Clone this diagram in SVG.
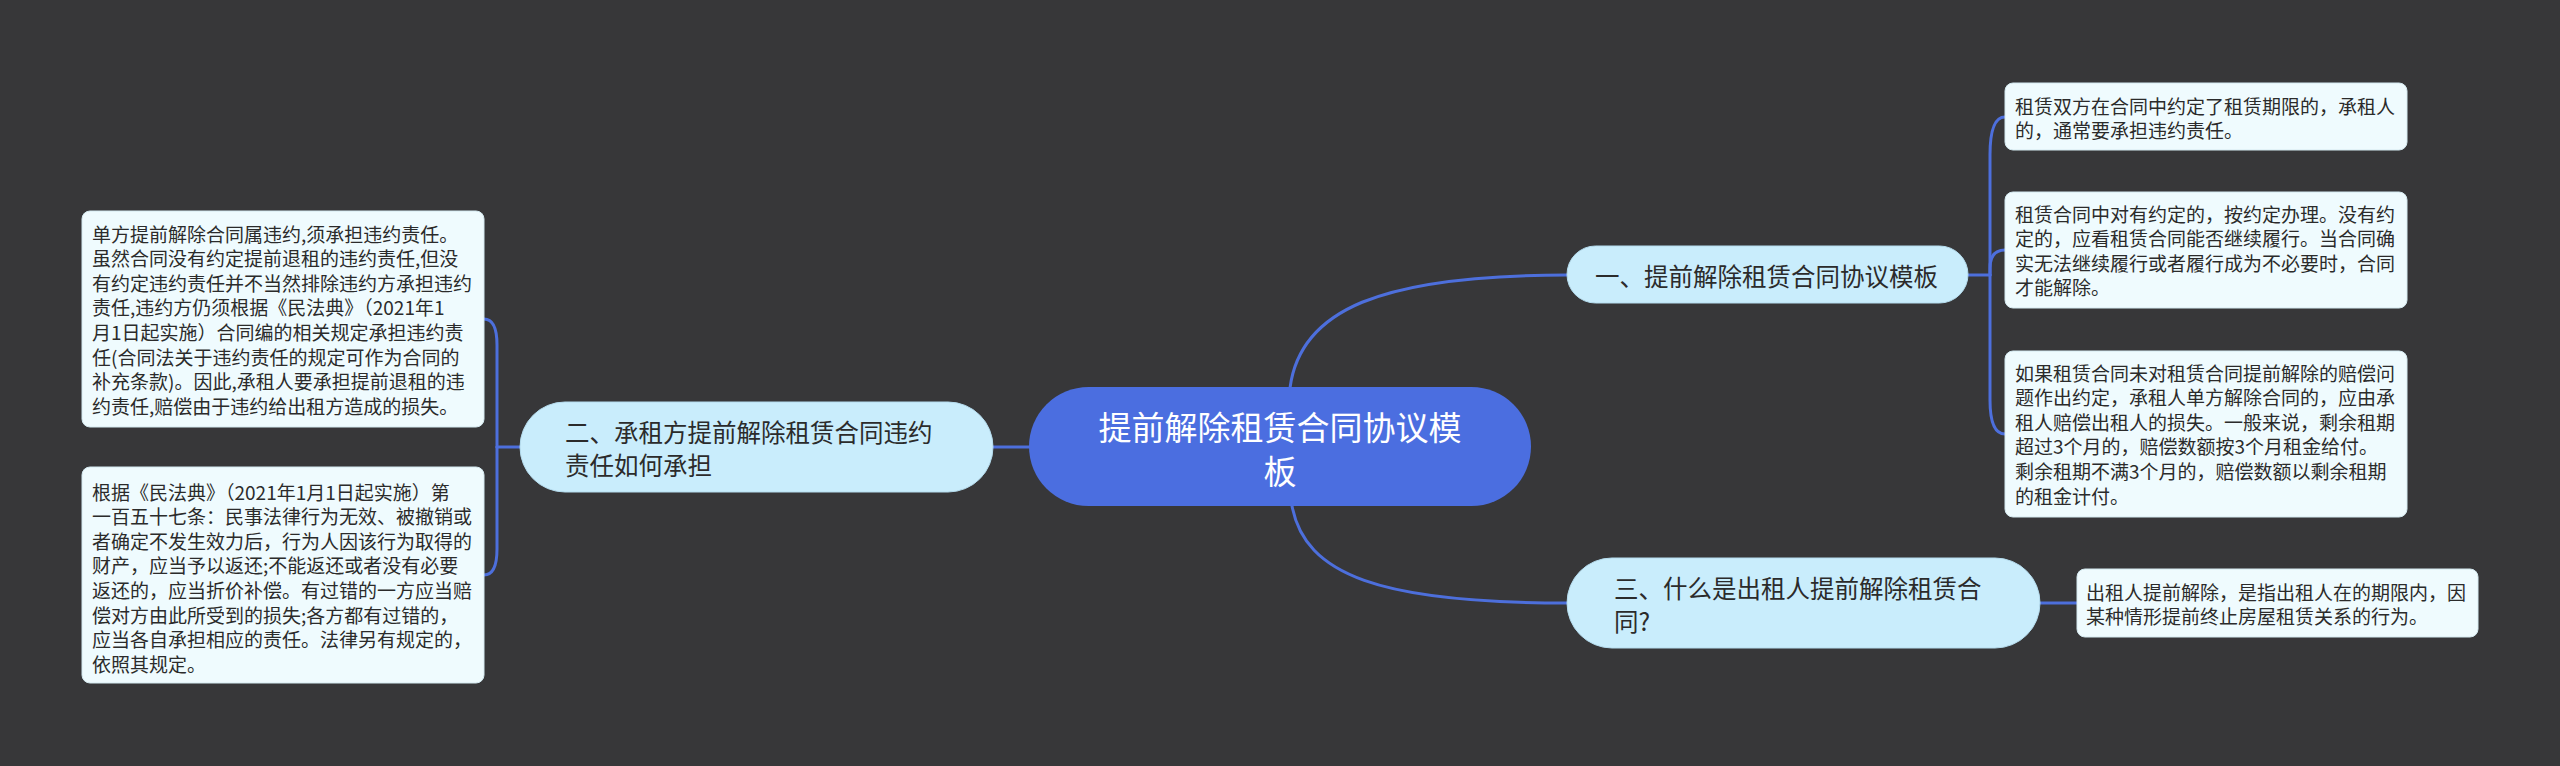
<svg xmlns="http://www.w3.org/2000/svg" width="2560" height="766" viewBox="0 0 2560 766">
<style>
.bg{fill:#373739}
.root{fill:#4b6ee0}
.l1{fill:#c9edfc;stroke:#b5dcee;stroke-width:1}
.leaf{fill:#effbfe;stroke:#d4e9f0;stroke-width:1}
.link{fill:none;stroke:#4d6fdc;stroke-width:3;stroke-linecap:round}
text{font-family:"Noto Sans CJK SC","Noto Sans",sans-serif;dominant-baseline:central}
.tr{font-size:33px;fill:#ffffff}
.t1{font-size:24.5px;fill:#2b2b2b}
.tl{font-size:19px;fill:#2b2b2b}
</style>
<rect class="bg" x="0" y="0" width="2560" height="766"/>
<g id="connectors">
<path class="link" d="M1290 388 C1300 310 1380 275 1567 275"/>
<path class="link" d="M1292 506 C1305 575 1380 603 1567 603"/>
<path class="link" d="M1029 447 H993"/>
<path class="link" d="M520 447 H497"/>
<path class="link" d="M497 447 V345 Q497 319 484 319"/>
<path class="link" d="M497 447 V549 Q497 575 484 575"/>
<path class="link" d="M1968 275 H1990"/>
<path class="link" d="M1990 275 V155 Q1990 117 2005 117"/>
<path class="link" d="M1990 275 V268 Q1990 250 2005 250"/>
<path class="link" d="M1990 275 V400 Q1990 434 2005 434"/>
<path class="link" d="M2040 603 H2077"/>
</g>
<g id="root">
<rect class="root" x="1029" y="387" width="502" height="119" rx="59.5"/>
<text class="tr" x="1280" y="426" text-anchor="middle">提前解除租赁合同协议模</text>
<text class="tr" x="1280" y="470" text-anchor="middle">板</text>
</g>
<g id="node1">
<rect class="l1" x="1567" y="246" width="401" height="57" rx="28.5"/>
<text class="t1" x="1595" y="275">一、提前解除租赁合同协议模板</text>
</g>
<g id="node2">
<rect class="l1" x="520" y="402" width="473" height="90" rx="45"/>
<text class="t1" x="565" y="431">二、承租方提前解除租赁合同违约</text>
<text class="t1" x="565" y="464">责任如何承担</text>
</g>
<g id="node3">
<rect class="l1" x="1567" y="558" width="473" height="90" rx="45"/>
<text class="t1" x="1614" y="587">三、什么是出租人提前解除租赁合</text>
<text class="t1" x="1614" y="620">同?</text>
</g>
<g id="leaf-left1">
<rect class="leaf" x="82" y="211" width="402" height="216" rx="8"/>
<text class="tl" x="92" y="233">单方提前解除合同属违约,须承担违约责任。</text>
<text class="tl" x="92" y="257.6">虽然合同没有约定提前退租的违约责任,但没</text>
<text class="tl" x="92" y="282.2">有约定违约责任并不当然排除违约方承担违约</text>
<text class="tl" x="92" y="306.8">责任,违约方仍须根据《民法典》（2021年1</text>
<text class="tl" x="92" y="331.4">月1日起实施）合同编的相关规定承担违约责</text>
<text class="tl" x="92" y="356">任(合同法关于违约责任的规定可作为合同的</text>
<text class="tl" x="92" y="380.6">补充条款)。因此,承租人要承担提前退租的违</text>
<text class="tl" x="92" y="405.2">约责任,赔偿由于违约给出租方造成的损失。</text>
</g>
<g id="leaf-left2">
<rect class="leaf" x="82" y="467" width="402" height="216" rx="8"/>
<text class="tl" x="92" y="491">根据《民法典》（2021年1月1日起实施）第</text>
<text class="tl" x="92" y="515.6">一百五十七条：民事法律行为无效、被撤销或</text>
<text class="tl" x="92" y="540.2">者确定不发生效力后，行为人因该行为取得的</text>
<text class="tl" x="92" y="564.8">财产，应当予以返还;不能返还或者没有必要</text>
<text class="tl" x="92" y="589.4">返还的，应当折价补偿。有过错的一方应当赔</text>
<text class="tl" x="92" y="614">偿对方由此所受到的损失;各方都有过错的，</text>
<text class="tl" x="92" y="638.6">应当各自承担相应的责任。法律另有规定的，</text>
<text class="tl" x="92" y="663.2">依照其规定。</text>
</g>
<g id="leaf-r1">
<rect class="leaf" x="2005" y="83" width="402" height="67" rx="8"/>
<text class="tl" x="2015" y="105">租赁双方在合同中约定了租赁期限的，承租人</text>
<text class="tl" x="2015" y="129.5">的，通常要承担违约责任。</text>
</g>
<g id="leaf-r2">
<rect class="leaf" x="2005" y="192" width="402" height="116" rx="8"/>
<text class="tl" x="2015" y="213">租赁合同中对有约定的，按约定办理。没有约</text>
<text class="tl" x="2015" y="237.6">定的，应看租赁合同能否继续履行。当合同确</text>
<text class="tl" x="2015" y="262.2">实无法继续履行或者履行成为不必要时，合同</text>
<text class="tl" x="2015" y="286.8">才能解除。</text>
</g>
<g id="leaf-r3">
<rect class="leaf" x="2005" y="351" width="402" height="166" rx="8"/>
<text class="tl" x="2015" y="372">如果租赁合同未对租赁合同提前解除的赔偿问</text>
<text class="tl" x="2015" y="396.6">题作出约定，承租人单方解除合同的，应由承</text>
<text class="tl" x="2015" y="421.2">租人赔偿出租人的损失。一般来说，剩余租期</text>
<text class="tl" x="2015" y="445.8">超过3个月的，赔偿数额按3个月租金给付。</text>
<text class="tl" x="2015" y="470.4">剩余租期不满3个月的，赔偿数额以剩余租期</text>
<text class="tl" x="2015" y="495">的租金计付。</text>
</g>
<g id="leaf-r4">
<rect class="leaf" x="2077" y="569" width="401" height="68" rx="8"/>
<text class="tl" x="2086" y="591">出租人提前解除，是指出租人在的期限内，因</text>
<text class="tl" x="2086" y="615.5">某种情形提前终止房屋租赁关系的行为。</text>
</g>
</svg>
